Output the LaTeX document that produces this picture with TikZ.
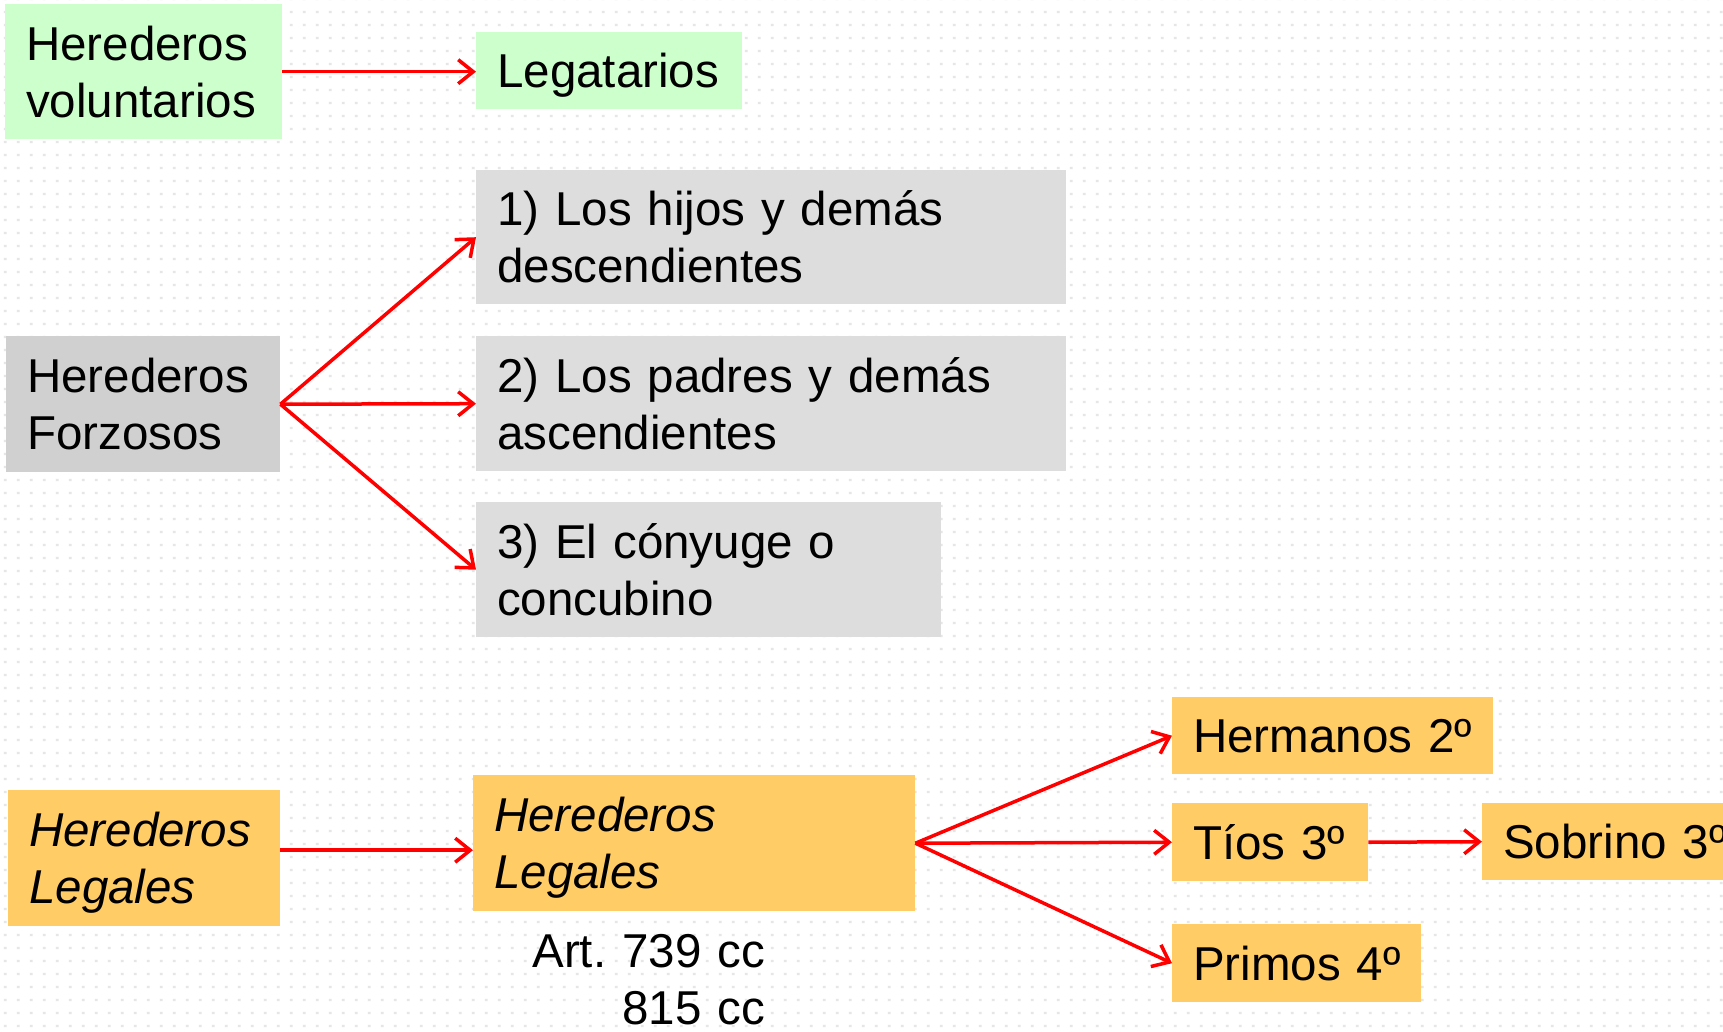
\documentclass[tikz,border=0pt]{standalone}
\usepackage{fontspec}
\setmainfont{Liberation Sans}
\usetikzlibrary{arrows.meta,patterns.meta}
\frenchspacing
\definecolor{grn}{HTML}{CCFFCC}
\definecolor{gryA}{HTML}{DDDDDD}
\definecolor{gryB}{HTML}{D0D0D0}
\definecolor{org}{HTML}{FFCC66}
\definecolor{dotc}{HTML}{E6E6E6}
\tikzdeclarepattern{
  name=bgdots, type=uncolored,
  bounding box={(0pt,0pt) and (13.3pt,13.3pt)},
  tile size={(13.3pt,13.3pt)},
  code={\fill (5pt,5pt) rectangle (8pt,7.5pt);}
}
\tikzset{
  box/.style={anchor=north west, inner xsep=21pt, inner ysep=0pt, align=left,
    text height=34pt, text depth=0pt, font=\fontsize{47.5}{57}\selectfont\frenchspacing},
  two/.style={text depth=57pt},
  arr/.style={draw=red, line width=3.5pt,
    -{Straight Barb[length=15pt,width=24pt,line width=3.5pt]}}
}
\begin{document}
\begin{tikzpicture}[x=1pt,y=-1pt]
\useasboundingbox (0,0) rectangle (1723,1031);
\clip (0,0) rectangle (1723,1031);
\fill[white] (0,0) rectangle (1723,1031);
\fill[pattern=bgdots, pattern color=dotc] (0,0) rectangle (1723,1031);

% voluntarios
\node[box, two, fill=grn, minimum width=277pt, minimum height=135pt, text width=235pt] (hv) at (5,4) {Herederos\\voluntarios};
\node[box, fill=grn, minimum width=266pt, minimum height=77pt, text width=224pt] (leg) at (476,32) {Legatarios};

% forzosos
\node[box, two, fill=gryB, minimum width=274pt, minimum height=136pt, text width=232pt] (hf) at (6,336) {Herederos\\Forzosos};
\node[box, two, fill=gryA, minimum width=590pt, minimum height=134pt, text width=548pt] (h1) at (476,170) {1)~Los~hijos~y~demás\\descendientes};
\node[box, two, fill=gryA, minimum width=590pt, minimum height=135pt, text width=548pt] (h2) at (476,336) {2)~Los~padres~y~demás\\ascendientes};
\node[box, two, fill=gryA, minimum width=465pt, minimum height=135pt, text width=423pt] (h3) at (476,502) {3)~El~cónyuge~o\\concubino};

% legales
\node[box, two, fill=org, minimum width=272pt, minimum height=136pt, text width=230pt, font=\fontsize{47.5}{57}\selectfont\itshape] (hl1) at (8,790) {Herederos\\Legales};
\node[box, two, fill=org, minimum width=442pt, minimum height=136pt, text width=400pt, font=\fontsize{47.5}{57}\selectfont\itshape] (hl2) at (473,775) {Herederos\\Legales};
\node[box, fill=org, minimum width=321pt, minimum height=77pt, text width=279pt] (herm) at (1172,697) {Hermanos~2º};
\node[box, fill=org, minimum width=196pt, minimum height=78pt, text width=154pt] (tios) at (1172,803) {Tíos~3º};
\node[box, fill=org, minimum width=300pt, minimum height=77pt, text width=258pt] (sob) at (1482,803) {Sobrino~3º};
\node[box, fill=org, minimum width=249pt, minimum height=78pt, text width=207pt] (prim) at (1172,924) {Primos~4º};

\node[anchor=north east, inner sep=0pt, align=right, text width=260pt,
  text height=34pt, text depth=57pt, font=\fontsize{47.5}{57}\selectfont\frenchspacing] (art) at (765,933) {Art.~739~cc\\815~cc};

% connectors
\draw[arr] (hv.east) -- (hv.east -| leg.west);
\draw[arr] (hf.east) -- (h1.west);
\draw[arr] (hf.east) -- (h2.west);
\draw[arr] (hf.east) -- (h3.west);
\draw[arr] ([yshift=8pt]hl1.east) -- ([yshift=8pt]hl1.east -| hl2.west);
\draw[arr] (hl2.east) -- (herm.west);
\draw[arr] (hl2.east) -- (tios.west);
\draw[arr] (hl2.east) -- (prim.west);
\draw[arr] (tios.east) -- (sob.west);
\end{tikzpicture}
\end{document}
